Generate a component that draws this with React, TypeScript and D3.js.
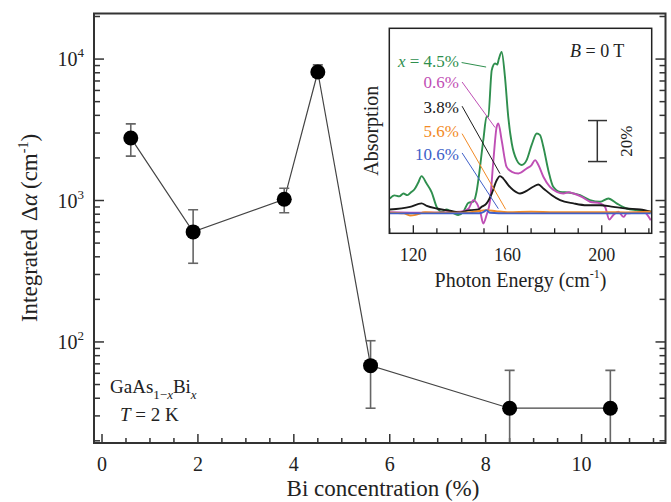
import React from "react";
import * as d3 from "d3";

// ---- Main data ----
const biConc = [0.6, 1.9, 3.8, 4.5, 5.6, 8.5, 10.6];
const intAlpha = [2770, 600, 1020, 8100, 68, 34, 34];
const errHigh = [3480, 860, 1220, 9100, 102, 63, 63];
const errLow = [2060, 360, 820, 7450, 34, 1, 1];
const xTickLabels = [0, 2, 4, 6, 8, 10];
const yMajor = [100, 1000, 10000];

// ---- Inset spectra: [photon energy (cm^-1), absorption (%)] ----
const green45: [number, number][] = [
  [110, 7], [112, 8.5], [114, 8], [115.8, 9.4], [117.5, 8.6], [119, 10], [120.5, 11.5], [122, 14.5], [123.5, 17.9],
  [125.5, 14.5], [127.8, 10], [129.9, 2.9], [132, 0.5], [134.2, 1.6], [136.5, 0.2], [139, -1.1], [141.2, 0.5],
  [143.4, 4.9], [145.5, 5.4], [146.8, 10], [147.6, 15.9], [149.7, 35.4], [151.1, 46.8], [151.8, 47], [153.3, 69.6],
  [154.7, 72.8], [155.6, 72.3], [156.3, 75], [157.5, 78.5], [158.9, 66.3], [160.3, 46.8], [161.8, 33.8], [163.9, 25.7],
  [166, 23.3], [168.1, 25.7], [170.2, 33], [172.4, 38.7], [173.8, 37.9], [175.2, 32.2], [177.3, 20.8], [179.4, 12.7],
  [182.3, 10.2], [186.5, 9.8], [190.8, 8.6], [195, 6.2], [199.3, 5.4], [202.8, 7], [206.3, 4.6], [210.6, 2.1],
  [214.8, 1.3], [220.8, 0.5],
];
const magenta06: [number, number][] = [
  [110, 0.3], [125, 0], [140, 0.5], [143.4, 2], [145.5, 6.2], [147, 4.5], [148.5, 0], [149.7, -5.2], [151.1, -1.1],
  [152.6, 6.2], [154, 25.7], [155.4, 42], [156.1, 43.6], [157.5, 35.4], [159.6, 22.4], [161.8, 20], [164.6, 19.2],
  [168.1, 21.6], [170.2, 23.3], [171.7, 25.7], [173.1, 23.3], [175.2, 17.6], [178, 12.7], [180.9, 10.2], [183.7, 9.4],
  [186, 10], [188, 9.4], [191.5, 7.8], [195, 5.4], [199.3, 4.6], [201.4, 2.9], [203.2, -3.3], [204.9, -1.1],
  [207, 0.5], [209.2, -2], [210.6, -0.3], [214, 0], [217.7, 0.5], [220.8, -3.6],
];
const black38: [number, number][] = [
  [110, 1.6], [118.6, 2.9], [123.5, 4.6], [125.7, 3.4], [129.9, 2.1], [135.6, 1], [139.8, 0.2], [144, 1.3],
  [147.6, 1.6], [149, 2.9], [151.1, 4.6], [153.3, 9.4], [155.4, 15.9], [156.8, 17.9], [158.2, 16.7], [160.3, 13.5],
  [162.5, 11], [165.3, 9.4], [168.1, 10.7], [170.9, 12.7], [173.1, 13.8], [175.2, 11.9], [178.8, 8.6], [182.3, 6.2],
  [188, 4.6], [193.6, 3.7], [199.3, 3.7], [204.9, 2.9], [210.6, 2.1], [216.3, 1.6], [220.8, 0.5],
];
const orange56: [number, number][] = [
  [110, 0], [116, -0.3], [118.6, -1.3], [121, -1], [125, 0.3], [130, 0], [140, 0], [146, 0.5], [151, 1.3],
  [155, 0.8], [160, 0.3], [170, 0.5], [180, 0.3], [190, 0.3], [200, 0.3], [210, 0.2], [220.8, 0.5],
];
const blue106: [number, number][] = [
  [110, -0.3], [130, -0.3], [148, -0.2], [150, 0.5], [151, 1.3], [152.5, 0], [160, -0.3], [190, -0.3], [220.8, -0.3],
];
const insetTicks = [120, 160, 200];

const seriesDefs = [
  { key: "g", data: green45, color: "#2f8f4e", label: "4.5%", prefix: true, labelV: 71, lead: [[140.5, 73.3], [150.9, 71.1]] },
  { key: "m", data: magenta06, color: "#bf4fb5", label: "0.6%", prefix: false, labelV: 60.7, lead: [[140.7, 63.8], [154.7, 41.6]] },
  { key: "k", data: black38, color: "#1a1a1a", label: "3.8%", prefix: false, labelV: 48.5, lead: [[140.7, 52], [156.8, 19.1]] },
  { key: "o", data: orange56, color: "#f28a25", label: "5.6%", prefix: false, labelV: 36.8, lead: [[140.7, 38.6], [159.2, 1.7]] },
  { key: "b", data: blue106, color: "#4060c8", label: "10.6%", prefix: false, labelV: 25.6, lead: [[140.7, 29.2], [156.1, 2.0]] },
];

const FONT = "'Liberation Serif', 'Times New Roman', serif";

export default function App() {
  const W = 671, H = 502;
  const L = 94, R = 665.5, T = 13.5, B = 443;
  const x = d3.scaleLinear().domain([-0.167, 11.75]).range([L, R]);
  const y = d3.scaleLog().domain([19.3, 21000]).range([B, T]);

  // inset
  const iL = 389.3, iR = 651.7, iT = 28.3, iB = 233.3;
  const ix = d3.scaleLinear().domain([109.8, 221.2]).range([iL, iR]);
  const iy = d3.scaleLinear().domain([-10, 90]).range([iB, iT]);
  const line = d3.line<[number, number]>().x((d) => ix(d[0])).y((d) => iy(d[1])).curve(d3.curveMonotoneX);

  const mainLine = d3.line<number>().x((_, i) => x(biConc[i])).y((d) => y(d))(intAlpha) || "";

  const yTicks = y.ticks();
  const xMinor = d3.range(0, 11.6, 0.5);
  const insetMinor = d3.range(110, 221, 10);

  const lbx = 459;
  return (
    <svg width={W} height={H} style={{ position: "absolute", left: 0, top: 0, background: "#fff" }} fontFamily={FONT}>
      <defs>
        <clipPath id="mainclip">
          <rect x={L} y={T} width={R - L} height={B - T} />
        </clipPath>
        <clipPath id="insetclip">
          <rect x={iL} y={iT} width={iR - iL} height={iB - iT} />
        </clipPath>
      </defs>
      <rect x={0} y={0} width={W} height={H} fill="#fff" />

      {/* y ticks left & right */}
      {yTicks.map((t, i) => {
        const major = Math.abs(Math.log10(t) - Math.round(Math.log10(t))) < 1e-6;
        const len = major ? 10 : 6;
        const yy = y(t);
        return (
          <g key={"yt" + i} stroke="#333" strokeWidth={1.5}>
            <line x1={L} x2={L + len} y1={yy} y2={yy} />
            <line x1={R} x2={R - len} y1={yy} y2={yy} />
          </g>
        );
      })}
      {/* x ticks */}
      {xMinor.map((t, i) => {
        const major = Math.abs(t % 2) < 1e-6;
        const len = major ? 9 : 5;
        return <line key={"xt" + i} x1={x(t)} x2={x(t)} y1={B} y2={B - len} stroke="#333" strokeWidth={1.5} />;
      })}

      {/* y tick labels */}
      {yMajor.map((t) => (
        <text key={"yl" + t} x={L - 10} y={y(t) + 7} textAnchor="end" fontSize={20} fill="#222">
          10<tspan fontSize={13} dy={-9}>{Math.round(Math.log10(t))}</tspan>
        </text>
      ))}
      {/* x tick labels */}
      {xTickLabels.map((t) => (
        <text key={"xl" + t} x={x(t)} y={471} textAnchor="middle" fontSize={20} fill="#222">
          {t}
        </text>
      ))}

      {/* axis titles */}
      <text x={383} y={496} textAnchor="middle" fontSize={23} fill="#222">
        Bi concentration (%)
      </text>
      <text transform={`translate(37,228) rotate(-90)`} textAnchor="middle" fontSize={23} fill="#222">
        Integrated<tspan dx={8}>Δ</tspan>
        <tspan fontStyle="italic">α</tspan>
        <tspan dx={5}>(cm</tspan>
        <tspan fontSize={14} dy={-9}>-1</tspan>
        <tspan dy={9}>)</tspan>
      </text>

      {/* data */}
      <g clipPath="url(#mainclip)">
        <path d={mainLine} fill="none" stroke="#444" strokeWidth={1.2} />
        {biConc.map((c, i) => (
          <g key={"eb" + i} stroke="#666" strokeWidth={1.6}>
            <line x1={x(c)} x2={x(c)} y1={y(errHigh[i])} y2={y(errLow[i])} />
            <line x1={x(c) - 5} x2={x(c) + 5} y1={y(errHigh[i])} y2={y(errHigh[i])} />
            <line x1={x(c) - 5} x2={x(c) + 5} y1={y(errLow[i])} y2={y(errLow[i])} />
          </g>
        ))}
        {biConc.map((c, i) => (
          <circle key={"pt" + i} cx={x(c)} cy={y(intAlpha[i])} r={7.5} fill="#000" />
        ))}
      </g>

      {/* sample labels */}
      <text x={110} y={393} fontSize={19} fill="#222">
        GaAs<tspan fontSize={13} dy={6}>1−</tspan>
        <tspan fontSize={13} fontStyle="italic">x</tspan>
        <tspan dy={-6}>Bi</tspan>
        <tspan fontSize={13} dy={6} fontStyle="italic">x</tspan>
      </text>
      <text x={120} y={421} fontSize={19} fill="#222">
        <tspan fontStyle="italic">T</tspan> = 2 K
      </text>

      {/* main frame */}
      <rect x={L} y={T} width={R - L} height={B - T} fill="none" stroke="#333" strokeWidth={2} />

      {/* ---- inset ---- */}
      <rect x={iL} y={iT} width={iR - iL} height={iB - iT} fill="#fff" />
      <g clipPath="url(#insetclip)">
        {seriesDefs.map((s) => (
          <path key={"c" + s.key} d={line(s.data) || ""} fill="none" stroke={s.color} strokeWidth={1.9} strokeLinejoin="round" />
        ))}
        {seriesDefs.map((s) => (
          <line key={"ld" + s.key} x1={ix(s.lead[0][0])} y1={iy(s.lead[0][1])} x2={ix(s.lead[1][0])} y2={iy(s.lead[1][1])} stroke={s.color} strokeWidth={1} />
        ))}
      </g>
      {seriesDefs.map((s) => (
        <text key={"lb" + s.key} x={lbx} y={iy(s.labelV)} textAnchor="end" fontSize={17} fill={s.color}>
          {s.prefix ? <tspan fontStyle="italic">x</tspan> : null}
          {s.prefix ? " = " : ""}
          {s.label}
        </text>
      ))}
      <text x={570} y={57} fontSize={18} fill="#222">
        <tspan fontStyle="italic">B</tspan> = 0 T
      </text>
      {/* scale bar 20% */}
      <g stroke="#333" strokeWidth={1.5}>
        <line x1={597.3} x2={597.3} y1={iy(45)} y2={iy(25)} />
        <line x1={588} x2={607} y1={iy(45)} y2={iy(45)} />
        <line x1={588} x2={607} y1={iy(25)} y2={iy(25)} />
      </g>
      <text transform={`translate(632,${iy(35)}) rotate(-90)`} textAnchor="middle" fontSize={17} fill="#222">
        20%
      </text>

      {/* inset ticks */}
      {insetMinor.map((t) => {
        const major = insetTicks.includes(t);
        return <line key={"it" + t} x1={ix(t)} x2={ix(t)} y1={iB} y2={iB - (major ? 8 : 5)} stroke="#222" strokeWidth={1.3} />;
      })}
      {insetTicks.map((t) => (
        <text key={"il" + t} x={ix(t)} y={261} textAnchor="middle" fontSize={18} fill="#222">
          {t}
        </text>
      ))}
      <rect x={iL} y={iT} width={iR - iL} height={iB - iT} fill="none" stroke="#222" strokeWidth={1.5} />
      <text x={ix(165.5)} y={287} textAnchor="middle" fontSize={20} fill="#222">
        Photon Energy (cm<tspan fontSize={12} dy={-9}>-1</tspan>
        <tspan dy={9}>)</tspan>
      </text>
      <text transform={`translate(378,${iy(40)}) rotate(-90)`} textAnchor="middle" fontSize={20} fill="#222">
        Absorption
      </text>
    </svg>
  );
}
